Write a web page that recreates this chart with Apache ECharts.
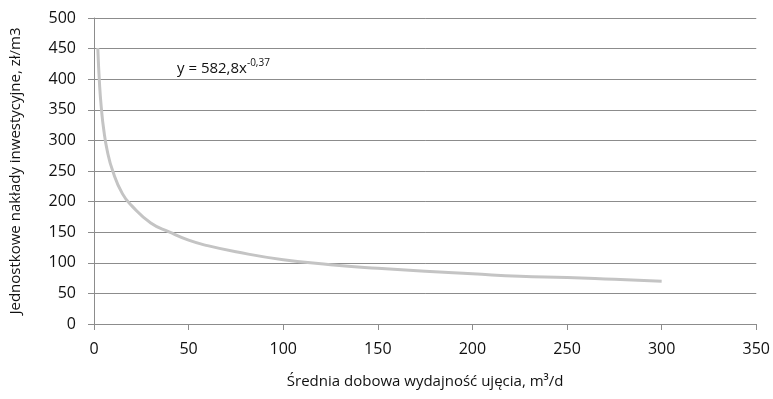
<!DOCTYPE html>
<html>
<head>
<meta charset="utf-8">
<script src="https://cdn.jsdelivr.net/npm/echarts@6/dist/echarts.min.js"></script>
<style>
  html, body { margin: 0; padding: 0; background: #fff; }
  #chart { width: 773px; height: 399px; }
</style>
</head>
<body>
<div id="chart"></div>
<script>
// values
var xValues = [2, 3, 4, 5, 7, 10, 15, 20, 30, 40, 50, 60, 75, 100, 125, 150, 175, 200, 225, 250, 275, 300];
var yValues = [451, 388, 349, 321, 283, 249, 213, 193, 165, 150, 137, 128, 118, 105, 97, 91, 86, 82, 78, 76, 73, 70];
var xTicks = [0, 50, 100, 150, 200, 250, 300, 350];
var yTicks = [0, 50, 100, 150, 200, 250, 300, 350, 400, 450, 500];

var font = 'Open Sans';
var myChart = echarts.init(document.getElementById('chart'));

var pts = [];
for (var i = 0; i < xValues.length; i++) {
    pts.push([xValues[i], yValues[i]]);
}

var option = {
    animation: false,
    textStyle: { fontFamily: font },
    grid: { left: 93, right: 16, top: 18, bottom: 75 },
    xAxis: {
        type: 'value',
        min: xTicks[0],
        max: xTicks[xTicks.length - 1],
        interval: 50,
        name: 'Średnia dobowa wydajność ujęcia, m³/d',
        nameLocation: 'middle',
        nameGap: 50,
        nameTextStyle: { fontSize: 15, color: '#111', fontFamily: font },
        axisLine: { lineStyle: { color: '#8c8c8c', width: 1 } },
        axisTick: { show: true, length: 6, lineStyle: { color: '#8c8c8c' } },
        axisLabel: { fontSize: 16, color: '#111', margin: 17 },
        splitLine: { show: false }
    },
    yAxis: {
        type: 'value',
        min: yTicks[0],
        max: yTicks[yTicks.length - 1],
        interval: 50,
        name: 'Jednostkowe nakłady inwestycyjne, zł/m3',
        nameLocation: 'middle',
        nameGap: 71,
        nameTextStyle: { fontSize: 15, color: '#111', fontFamily: font },
        axisLine: { show: true, lineStyle: { color: '#8c8c8c', width: 1 } },
        axisTick: { show: true, length: 6, lineStyle: { color: '#8c8c8c' } },
        axisLabel: { fontSize: 16, color: '#111', margin: 18 },
        splitLine: { show: true, lineStyle: { color: '#8c8c8c', width: 1 } }
    },
    graphic: [{
        type: 'text',
        left: 177,
        top: 58,
        style: {
            text: '{a|y = 582,8x}{b|-0,37}',
            rich: {
                a: { fontSize: 15, fill: '#111', fontFamily: font, verticalAlign: 'bottom' },
                b: { fontSize: 10, fill: '#111', fontFamily: font, verticalAlign: 'top', padding: [0, 0, 8, 0] }
            }
        }
    }],
    series: [{
        type: 'line',
        data: pts,
        smooth: true,
        showSymbol: false,
        lineStyle: { color: '#c4c4c4', width: 3 }
    }]
};

myChart.setOption(option, true);
</script>
</body>
</html>
